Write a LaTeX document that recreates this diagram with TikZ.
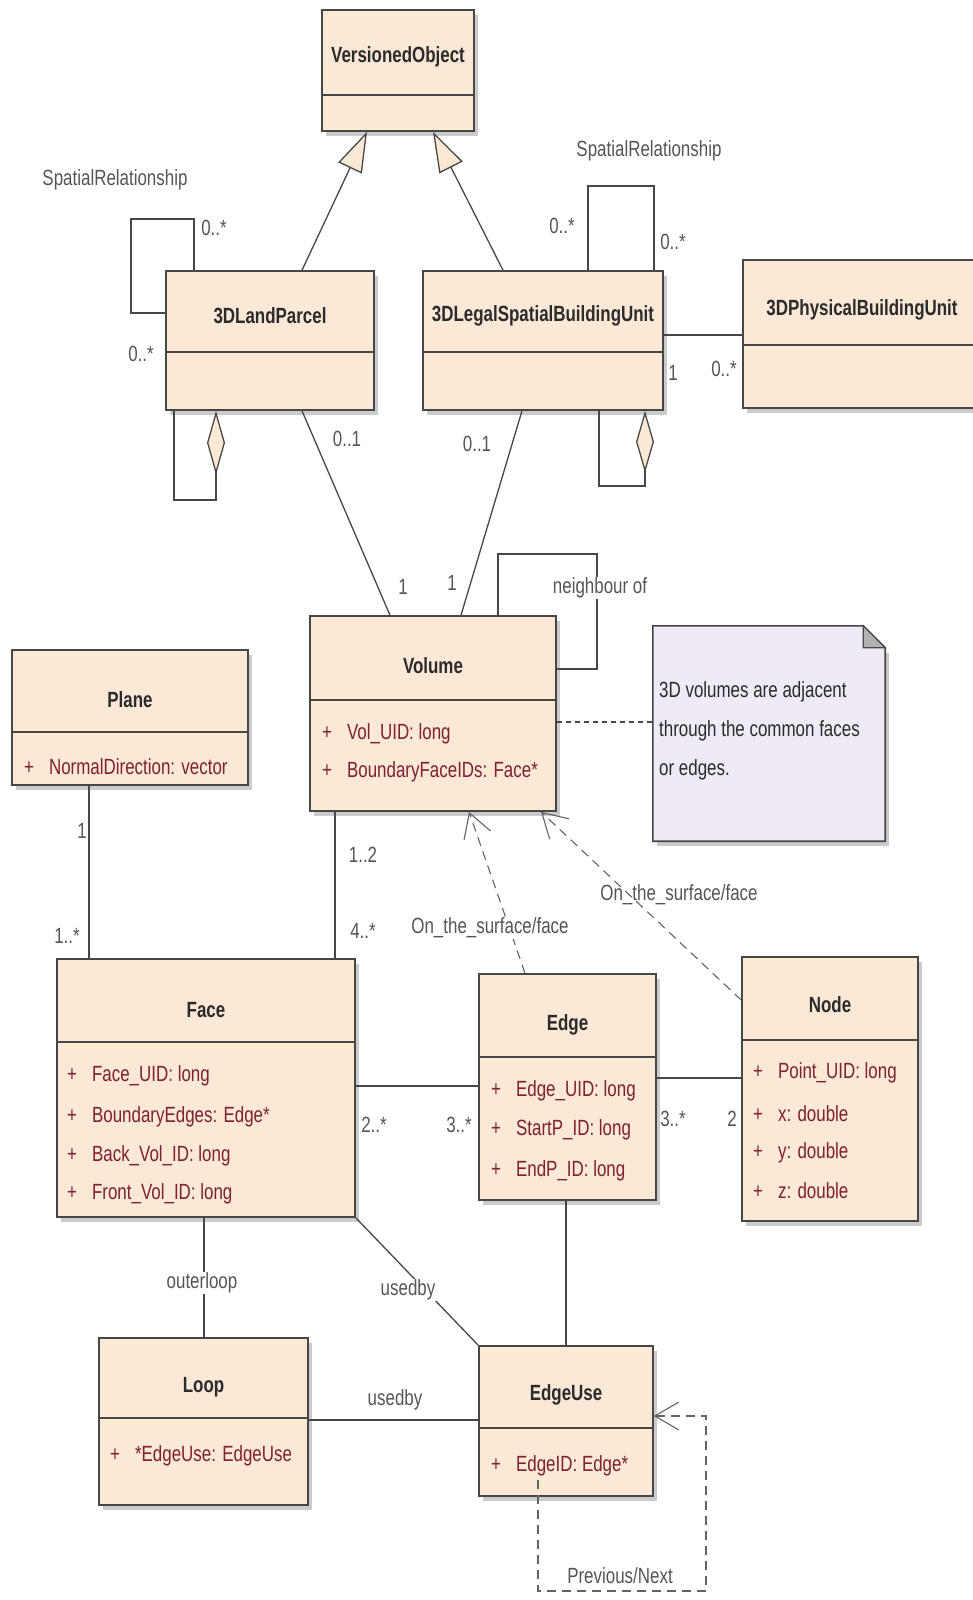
\documentclass[tikz,border=0pt]{standalone}
\usepackage{fontspec}
\setmainfont[FakeStretch=0.77]{Liberation Sans}
\usetikzlibrary{arrows.meta,shadows}
\definecolor{boxfill}{HTML}{FBE8D5}
\definecolor{boxline}{HTML}{474747}
\definecolor{titlecol}{HTML}{2B2B2B}
\definecolor{attrcol}{HTML}{7E2130}
\definecolor{labelcol}{HTML}{555555}
\definecolor{notefill}{HTML}{EFEAF5}
\begin{document}
\begin{tikzpicture}[x=1pt,y=-1pt, every node/.style={font=\fontsize{22}{26}\selectfont}]
    \tikzstyle{cls}=[draw=boxline, line width=1.6pt, fill=boxfill, inner sep=0pt,
                     drop shadow={shadow xshift=4pt, shadow yshift=-5pt, fill=black!45, opacity=.45}]
    \tikzstyle{ttl}=[font=\fontsize{22}{26}\selectfont\bfseries, text=titlecol]
    \tikzstyle{att}=[text=attrcol, anchor=west, inner sep=0pt]
    \tikzstyle{lbl}=[text=labelcol, inner sep=1pt]
    \tikzstyle{lnk}=[draw=boxline, line width=1.3pt]
    \tikzstyle{dep}=[draw=boxline!85, line width=1.1pt, dash pattern=on 9pt off 6pt,
                     -{Straight Barb[length=24pt, width=28pt]}]
    \useasboundingbox (0,0) rectangle (972,1600);

    % classes
    \node[cls, minimum width=152pt, minimum height=121pt] (vo) at (398,70.5) {};
    \node[ttl] (voT) at (398,57) {VersionedObject};
    \draw[lnk] (vo.west |- 0,95) -- (vo.east |- 0,95);

    \node[cls, minimum width=208pt, minimum height=139pt] (lp) at (270,340.5) {};
    \node[ttl] (lpT) at (270,316) {3DLandParcel};
    \draw[lnk] (lp.west |- 0,352) -- (lp.east |- 0,352);

    \node[cls, minimum width=240pt, minimum height=139pt] (lsbu) at (543,340.5) {};
    \node[ttl] (lsbuT) at (543,316) {3DLegalSpatialBuildingUnit};
    \draw[lnk] (lsbu.west |- 0,352) -- (lsbu.east |- 0,352);

    \node[cls, minimum width=245pt, minimum height=148pt] (pbu) at (865.5,334) {};
    \node[ttl] (pbuT) at (862,310) {3DPhysicalBuildingUnit};
    \draw[lnk] (pbu.west |- 0,345) -- (pbu.east |- 0,345);

    \node[cls, minimum width=246pt, minimum height=195pt] (vol) at (433,713.5) {};
    \node[ttl] (volT) at (433,666) {Volume};
    \draw[lnk] (vol.west |- 0,700) -- (vol.east |- 0,700);
    \node[att] (vol1) at (322,734) {+\hspace{15pt}Vol\_UID: long};
    \node[att] (vol2) at (322,772) {+\hspace{15pt}BoundaryFaceIDs: Face*};

    \node[cls, minimum width=236pt, minimum height=135pt] (plane) at (130,717.5) {};
    \node[ttl] (planeT) at (130,700) {Plane};
    \draw[lnk] (plane.west |- 0,732) -- (plane.east |- 0,732);
    \node[att] (plane1) at (24,767) {+\hspace{15pt}NormalDirection: vector};

    \node[cls, minimum width=298pt, minimum height=258pt] (face) at (206,1088) {};
    \node[ttl] (faceT) at (206,1010) {Face};
    \draw[lnk] (face.west |- 0,1042) -- (face.east |- 0,1042);
    \node[att] (face1) at (67,1076) {+\hspace{15pt}Face\_UID: long};
    \node[att] (face2) at (67,1117) {+\hspace{15pt}BoundaryEdges: Edge*};
    \node[att] (face3) at (67,1156) {+\hspace{15pt}Back\_Vol\_ID: long};
    \node[att] (face4) at (67,1194) {+\hspace{15pt}Front\_Vol\_ID: long};

    \node[cls, minimum width=177pt, minimum height=226pt] (edge) at (567.5,1087) {};
    \node[ttl] (edgeT) at (567.5,1025) {Edge};
    \draw[lnk] (edge.west |- 0,1057) -- (edge.east |- 0,1057);
    \node[att] (edge1) at (491,1091) {+\hspace{15pt}Edge\_UID: long};
    \node[att] (edge2) at (491,1130) {+\hspace{15pt}StartP\_ID: long};
    \node[att] (edge3) at (491,1171) {+\hspace{15pt}EndP\_ID: long};

    \node[cls, minimum width=176pt, minimum height=264pt] (pnode) at (830,1089) {};
    \node[ttl] (pnodeT) at (830,1005) {Node};
    \draw[lnk] (pnode.west |- 0,1040) -- (pnode.east |- 0,1040);
    \node[att] (pnode1) at (753,1073) {+\hspace{15pt}Point\_UID: long};
    \node[att] (pnode2) at (753,1114) {+\hspace{15pt}x: double};
    \node[att] (pnode3) at (753,1153) {+\hspace{15pt}y: double};
    \node[att] (pnode4) at (753,1191) {+\hspace{15pt}z: double};

    \node[cls, minimum width=209pt, minimum height=167pt] (loop) at (203.5,1421.5) {};
    \node[ttl] (loopT) at (203.5,1387) {Loop};
    \draw[lnk] (loop.west |- 0,1418) -- (loop.east |- 0,1418);
    \node[att] (loop1) at (110,1456) {+\hspace{15pt}*EdgeUse: EdgeUse};

    \node[cls, minimum width=174pt, minimum height=150pt] (eu) at (566,1421) {};
    \node[ttl] (euT) at (566,1395) {EdgeUse};
    \draw[lnk] (eu.west |- 0,1428) -- (eu.east |- 0,1428);
    \node[att] (eu1) at (491,1466) {+\hspace{15pt}EdgeID: Edge*};

    % note
    \node[minimum width=232pt, minimum height=215pt, inner sep=0pt] (note) at (769,733.5) {};
    \fill[black!45, opacity=.45] ([shift={(4pt,-5pt)}]note.south west) rectangle ([shift={(4pt,-27pt)}]note.north east);
    \draw[boxline, line width=1.6pt, fill=notefill] (note.south west) -- (note.north west)
        -- ([xshift=-22pt]note.north east) -- ([yshift=-22pt]note.north east) -- (note.south east) -- cycle;
    \draw[boxline, line width=1.2pt, fill=black!30] ([xshift=-22pt]note.north east)
        -- ([xshift=-22pt, yshift=-22pt]note.north east) -- ([yshift=-22pt]note.north east) -- cycle;
    \node[anchor=west, align=left, inner sep=0pt, text=titlecol, font=\fontsize{22}{39}\selectfont]
        (noteT) at (659,731) {3D volumes are adjacent\\through the common faces\\or edges.};

    % connectors
    \draw[lnk, -{Triangle[fill=boxfill, length=40pt, width=26pt]}] (302,0 |- lp.north) -- (367,0 |- vo.south);
    \draw[lnk, -{Triangle[fill=boxfill, length=40pt, width=26pt]}] (503,0 |- lsbu.north) -- (433,0 |- vo.south);

    \draw[lnk] (lp.west |- 0,313) -| (131,219) -| (194,0 |- lp.north);
    \draw[lnk] (588,0 |- lsbu.north) |- (654,186) -- (654,0 |- lsbu.north);
    \draw[lnk, {Diamond[fill=boxfill, length=64pt, width=18pt]}-] (216,0 |- lp.south) |- (174,500) -- (174,0 |- lp.south);
    \draw[lnk, {Diamond[fill=boxfill, length=62pt, width=18pt]}-] (645,0 |- lsbu.south) |- (599,486) -- (599,0 |- lsbu.south);
    \draw[lnk] (lsbu.east |- 0,335) -- (pbu.west |- 0,335);

    \draw[lnk] (302,0 |- lp.south) -- (390,0 |- vol.north);
    \draw[lnk] (522,0 |- lsbu.south) -- (461,0 |- vol.north);
    \draw[lnk] (498,0 |- vol.north) |- (597,554) |- (vol.east |- 0,669);
    \draw[lnk, dash pattern=on 5pt off 4pt] (vol.east |- 0,722) -- (note.west |- 0,722);

    \draw[lnk] (89,0 |- plane.south) -- (89,0 |- face.north);
    \draw[lnk] (335,0 |- vol.south) -- (335,0 |- face.north);
    \draw[lnk] (face.east |- 0,1086) -- (edge.west |- 0,1086);
    \draw[lnk] (edge.east |- 0,1078) -- (pnode.west |- 0,1078);
    \draw[dep] (525,0 |- edge.north) -- (469,0 |- vol.south);
    \draw[dep] (pnode.west |- 0,1000) -- (541,0 |- vol.south);

    \draw[lnk] (204,0 |- face.south) -- (204,0 |- loop.north);
    \draw[lnk] (face.south east) -- (eu.north west);
    \draw[lnk] (566,0 |- edge.south) -- (566,0 |- eu.north);
    \draw[lnk] (loop.east |- 0,1420) -- (eu.west |- 0,1420);
    \draw[dep] (538,1480) |- (706,1591) |- (eu.east |- 0,1416);

    % labels
    \node[lbl] (sr1) at (115,180) {SpatialRelationship};
    \node[lbl] (sr2) at (649,151) {SpatialRelationship};
    \node[lbl] (mlp1) at (214,228) {0..*};
    \node[lbl] (mlp2) at (141,354) {0..*};
    \node[lbl] (mls1) at (562,226) {0..*};
    \node[lbl] (mls2) at (673,242) {0..*};
    \node[lbl] (mls3) at (673,373) {1};
    \node[lbl] (mpb) at (724,369) {0..*};
    \node[lbl] (mlp3) at (347,439) {0..1};
    \node[lbl] (mls4) at (477,444) {0..1};
    \node[lbl] (mvol1) at (403,587) {1};
    \node[lbl] (mvol2) at (452,583) {1};
    \node[lbl, fill=white] (nb) at (600,588) {neighbour of};
    \node[lbl] (mpl) at (82,831) {1};
    \node[lbl] (mfa1) at (67,936) {1..*};
    \node[lbl] (mvol3) at (363,855) {1..2};
    \node[lbl] (mfa2) at (363,931) {4..*};
    \node[lbl, fill=white] (os1) at (490,928) {On\_the\_surface/face};
    \node[lbl] (os2) at (679,895) {On\_the\_surface/face};
    \node[lbl] (mfa3) at (374,1125) {2..*};
    \node[lbl] (med1) at (459,1125) {3..*};
    \node[lbl] (med2) at (673,1119) {3..*};
    \node[lbl] (mnd) at (732,1119) {2};
    \node[lbl, fill=white] (ol) at (202,1283) {outerloop};
    \node[lbl, fill=white] (ub1) at (408,1290) {usedby};
    \node[lbl] (ub2) at (395,1400) {usedby};
    \node[lbl] (pn) at (620,1576) {Previous/Next};
\end{tikzpicture}
\end{document}
